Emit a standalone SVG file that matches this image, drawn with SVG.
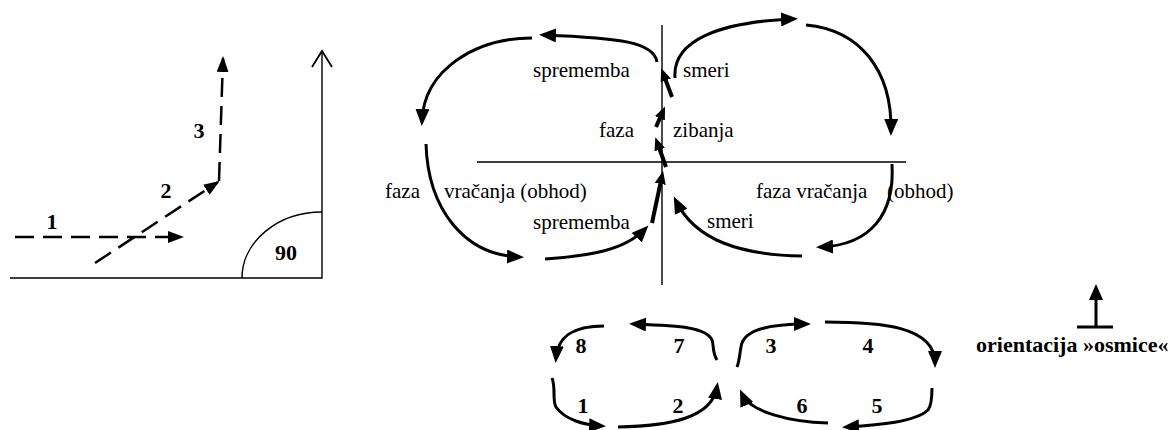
<svg xmlns="http://www.w3.org/2000/svg" width="1170" height="430" viewBox="0 0 1170 430">
<style>
.t{font-size:21px;fill:#000}
.b{font-size:22px;font-weight:bold;fill:#000}
.ax{stroke:#000;stroke-width:1.4;fill:none}
.c{stroke:#000;stroke-width:3;fill:none;marker-end:url(#ah)}
.k{stroke:#000;stroke-width:4;fill:none;marker-end:url(#ahs)}
.d{stroke:#000;stroke-width:2.5;fill:none;stroke-dasharray:19 9;marker-end:url(#ahd)}
</style>
<defs>
<marker id="ah" markerUnits="userSpaceOnUse" markerWidth="17" markerHeight="14" refX="12" refY="7" orient="auto"><path d="M0,0 L17,7 L0,14 z" fill="#000"/></marker>
<marker id="ahs" markerUnits="userSpaceOnUse" markerWidth="13" markerHeight="11" refX="8" refY="5.5" orient="auto"><path d="M0,0 L13,5.5 L0,11 z" fill="#000"/></marker>
<marker id="ahd" markerUnits="userSpaceOnUse" markerWidth="16" markerHeight="12" refX="14" refY="6" orient="auto"><path d="M0,0 L16,6 L0,12 z" fill="#000"/></marker>
</defs>

<g font-family="Liberation Serif, Times New Roman, serif">
<g id="angle-panel">
<path class="ax" d="M10,278 H322 V51" stroke-width="1.8"/>
<polyline points="312,67 322,51 332,67" fill="none" stroke="#000" stroke-width="1.8"/>
<path d="M242,278 A80,66 0 0 1 322,212" fill="none" stroke="#000" stroke-width="1.5"/>
<text class="b" x="286" y="260" text-anchor="middle" font-size="24">90</text>
<text class="b" x="52" y="229" text-anchor="middle">1</text>
<text class="b" x="166" y="198" text-anchor="middle">2</text>
<text class="b" x="199" y="138" text-anchor="middle">3</text>
</g>

<g id="connectors">
<path class="d" d="M15,237 L182,237"/>
<path class="d" d="M95,263 L218,182"/>
<path class="d" d="M219,181 L223,58"/>

<path class="c" d="M657,62 C654,42 620,38 544,35"/>
<path class="c" d="M532,38 C475,38 424,70 422,121"/>
<path class="c" d="M426,144 C428,210 465,255 519,257"/>
<path class="c" d="M545,259 C590,256 625,250 645,229"/>
<path class="k" d="M652,223 L662,176"/>
<path class="k" d="M666,167 L657,142"/>
<path class="k" d="M656,127 L663,111"/>
<path class="k" d="M672,97 L663,73"/>
<path class="c" d="M675,78 C672,40 720,22 793,19"/>
<path class="c" d="M806,25 C860,30 892,70 891,131"/>
<path class="c" d="M892,164 C895,215 870,245 821,247"/>
<path class="c" d="M802,256 C740,255 695,240 676,201"/>

<path class="c" d="M604,326 C580,326 558,332 556,358"/>
<path class="c" d="M717,360 C712,352 714,345 712,340 C706,327 680,326 634,324"/>
<path class="c" d="M737,367 C740,360 740,348 742,343 C748,327 780,324 806,324"/>
<path class="c" d="M825,322 C880,322 935,326 935,363"/>
<path class="c" d="M932,388 C932,395 932,405 928,410 C915,422 880,425 847,427"/>
<path class="c" d="M828,423 C790,422 750,412 742,394"/>
<path class="c" d="M552,378 C556,388 552,400 556,407 C565,420 585,425 601,426"/>
<path class="c" d="M618,427 C670,426 712,418 717,387"/>
</g>

<g id="figure-eight">
<path class="ax" d="M477,162 H906 M662,25 V285"/>
<text class="t" x="533" y="77">sprememba</text>
<text class="t" x="683" y="77">smeri</text>
<text class="t" x="599" y="137">faza</text>
<text class="t" x="673" y="137">zibanja</text>
<text class="t" x="385" y="198">faza</text>
<text class="t" x="444" y="198">vračanja (obhod)</text>
<text class="t" x="533" y="229">sprememba</text>
<text class="t" x="756" y="198">faza vračanja</text>
<text class="t" x="887" y="198">(obhod)</text>
<text class="t" x="707" y="228">smeri</text>
</g>

<g id="numbered-loop">
<text class="b" x="581" y="353" text-anchor="middle">8</text>
<text class="b" x="679" y="353" text-anchor="middle">7</text>
<text class="b" x="771" y="353" text-anchor="middle">3</text>
<text class="b" x="868" y="353" text-anchor="middle">4</text>
<text class="b" x="583" y="413" text-anchor="middle">1</text>
<text class="b" x="678" y="413" text-anchor="middle">2</text>
<text class="b" x="802" y="413" text-anchor="middle">6</text>
<text class="b" x="877" y="413" text-anchor="middle">5</text>
</g>

<g id="orientation">
<path d="M1077,327 H1113 M1096,327 V298" stroke="#000" stroke-width="3" fill="none"/>
<path d="M1089,300 L1096,284 L1103,300 z" fill="#000"/>
<text class="b" x="976" y="352" font-size="21">orientacija »osmice«</text>
</g>
</g>
</svg>
